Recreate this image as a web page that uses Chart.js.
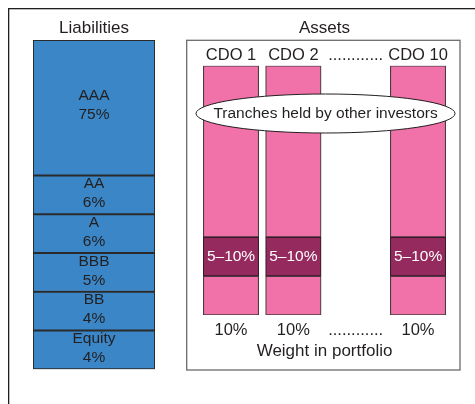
<!DOCTYPE html>
<html>
<head>
<meta charset="utf-8">
<script src="https://cdn.jsdelivr.net/npm/chart.js@4"></script>
<style>
  html, body { margin: 0; padding: 0; background: #fff; overflow: hidden; }
  #wrap { position: relative; width: 475px; height: 404px; }
  #wrap canvas { position: absolute; left: 0; top: 0; }
</style>
</head>
<body>
<div id="wrap">
  <canvas id="liab" width="475" height="404"></canvas>
  <canvas id="assets" width="475" height="404"></canvas>
</div>
<script>
// liabilities side: tranche names, size in %, and box height as drawn (boxes are not to scale)
const tranches = ['AAA', 'AA', 'A', 'BBB', 'BB', 'Equity'];
const tranchePct = [75, 6, 6, 5, 4, 4];
const trancheBox = [3.5, 1, 1, 1, 1, 1];

// assets side: CDOs held in the portfolio
const cdoNames = ['CDO 1', 'CDO 2', 'CDO 10'];
const cdoWeight = [10, 10, 10];
const cdoHeldLabel = ['5–10%', '5–10%', '5–10%'];
const cdoBelow = [1, 1, 1];
const cdoHeld = [1, 1, 1];
const cdoAbove = [4.4, 4.4, 4.4];
const gapAt = 2;
const gapText = '............';

const FONT = '"Liberation Sans", Arial, sans-serif';
const INK = '#231f20';
Chart.defaults.font.family = FONT;
Chart.defaults.color = INK;

const sum = a => a.reduce((s, v) => s + v, 0);
const withGap = (arr, fill) => { const a = arr.slice(); a.splice(gapAt, 0, fill); return a; };

// ---------- liabilities ----------
const liabSets = tranches.map((t, i) => ({
  label: t,
  pct: tranchePct[i] + '%',
  data: [trancheBox[i]],
  backgroundColor: '#3a86c7',
  borderColor: '#2b2b2b',
  borderWidth: 1.3,
  borderSkipped: false,
  categoryPercentage: 1,
  barPercentage: 1
})).reverse(); // first dataset sits at the bottom of the stack

const liabPlugin = {
  id: 'liabText',
  beforeDraw(chart) {
    // outer frame of the figure: top and left edges only
    const ctx = chart.ctx;
    ctx.save();
    ctx.fillStyle = INK;
    ctx.fillRect(8, 8, 467, 1.3);
    ctx.fillRect(8, 8, 1.3, 396);
    ctx.restore();
  },
  afterDatasetsDraw(chart) {
    const ctx = chart.ctx;
    ctx.save();
    ctx.font = '15.5px ' + FONT;
    ctx.fillStyle = INK;
    ctx.textAlign = 'center';
    ctx.textBaseline = 'middle';
    chart.data.datasets.forEach((ds, di) => {
      const el = chart.getDatasetMeta(di).data[0];
      const cy = (el.y + el.base) / 2 - (ds.data[0] > 1 ? 2.5 : 1.5);
      ctx.fillText(ds.label, el.x, cy - 9.5);
      ctx.fillText(ds.pct, el.x, cy + 9.5);
    });
    ctx.restore();
  }
};

new Chart(document.getElementById('liab'), {
  type: 'bar',
  data: { labels: ['Liabilities'], datasets: liabSets },
  options: {
    responsive: false,
    animation: false,
    layout: { padding: { left: 33, right: 320, top: 0, bottom: 34.7 } },
    plugins: { legend: { display: false }, tooltip: { enabled: false } },
    scales: {
      x: {
        position: 'top', stacked: true,
        grid: { display: false, drawTicks: false }, border: { display: false },
        ticks: { padding: 1.8, font: { size: 17 }, color: INK },
        afterFit: s => { s.height = 40; }
      },
      y: { display: false, stacked: true, min: 0, max: sum(trancheBox) }
    }
  },
  plugins: [liabPlugin]
});

// ---------- assets ----------
const slotNames = withGap(cdoNames, gapText);
const slotWeights = withGap(cdoWeight.map(w => w + '%'), gapText);
const pink = '#f072a8';
const plum = '#942a5e';

const assetSets = [
  { label: 'Held by other investors', data: withGap(cdoBelow, null), backgroundColor: pink, borderColor: '#4a3b42' },
  { label: 'Held by the CDO', data: withGap(cdoHeld, null), backgroundColor: plum, borderColor: '#3a1a2a', text: withGap(cdoHeldLabel, null) },
  { label: 'Held by other investors', data: withGap(cdoAbove, null), backgroundColor: pink, borderColor: '#4a3b42' }
].map(d => Object.assign(d, { borderWidth: 1.2, borderSkipped: false, barThickness: 55.5 }));

const assetPlugin = {
  id: 'assetText',
  beforeDatasetsDraw(chart) {
    const ctx = chart.ctx;
    ctx.save();
    ctx.strokeStyle = '#6b6b6b';
    ctx.lineWidth = 1.3;
    ctx.strokeRect(186.7, 40.3, 273.3, 329.7);
    ctx.restore();
  },
  afterDatasetsDraw(chart) {
    const ctx = chart.ctx;
    const a = chart.chartArea;
    ctx.save();
    // ellipse callout over the upper tranches
    const cx = (a.left + a.right) / 2 + 1;
    ctx.beginPath();
    ctx.ellipse(cx, 113.5, 129.5, 19.5, 0, 0, Math.PI * 2);
    ctx.fillStyle = '#fff';
    ctx.fill();
    ctx.strokeStyle = INK;
    ctx.lineWidth = 1;
    ctx.stroke();
    ctx.font = '15.5px ' + FONT;
    ctx.fillStyle = INK;
    ctx.textAlign = 'center';
    ctx.textBaseline = 'middle';
    ctx.fillText('Tranches held by other investors', cx, 114);
    // tranche held by the synthetic CDO
    ctx.fillStyle = '#fff';
    chart.data.datasets.forEach((ds, di) => {
      if (!ds.text) return;
      chart.getDatasetMeta(di).data.forEach((el, i) => {
        if (ds.text[i] == null) return;
        ctx.fillText(ds.text[i], el.x, (el.y + el.base) / 2);
      });
    });
    ctx.restore();
  }
};

new Chart(document.getElementById('assets'), {
  type: 'bar',
  data: { labels: slotWeights, datasets: assetSets },
  options: {
    responsive: false,
    animation: false,
    layout: { padding: { left: 199.85, right: 25.8, top: 0, bottom: 0 } },
    plugins: { legend: { display: false }, tooltip: { enabled: false } },
    scales: {
      x: {
        position: 'bottom', stacked: true,
        grid: { display: false, drawTicks: false }, border: { display: false },
        ticks: { padding: 5.1, font: { size: 16.5 }, color: INK, maxRotation: 0, autoSkip: false },
        title: { display: true, text: 'Weight in portfolio', font: { size: 17 }, color: INK, padding: { top: 0, bottom: 42.8 } },
        afterFit: s => { s.height = 89; }
      },
      x2: {
        type: 'category', labels: slotNames, position: 'top', offset: true,
        grid: { display: false, drawTicks: false }, border: { display: false },
        ticks: { padding: 0.8, font: { size: 16.5 }, color: INK, maxRotation: 0, autoSkip: false },
        title: { display: true, text: 'Assets', font: { size: 17 }, color: INK, padding: { top: 17.8, bottom: 0 } },
        afterFit: s => { s.height = 65.7; }
      },
      y: { display: false, stacked: true, min: 0, max: sum([cdoBelow[0], cdoHeld[0], cdoAbove[0]]) }
    }
  },
  plugins: [assetPlugin]
});
</script>
</body>
</html>
